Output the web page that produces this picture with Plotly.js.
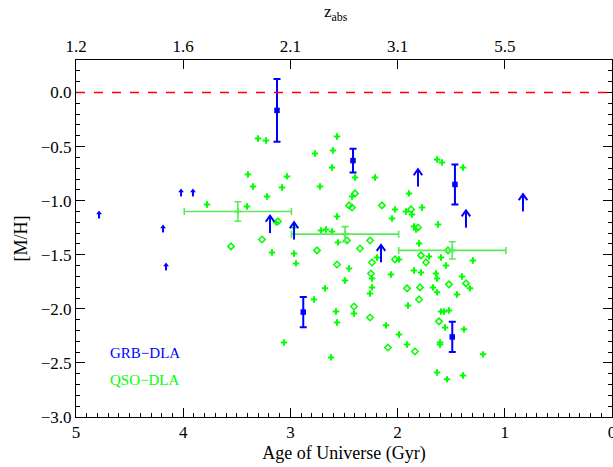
<!DOCTYPE html>
<html>
<head>
<meta charset="utf-8">
<script src="https://cdn.plot.ly/plotly-3.0.1.min.js"></script>
<style>html,body{margin:0;padding:0;background:#fff;}#chart{width:613px;height:467px;}</style>
</head>
<body>
<div id="chart"></div>
<script>
// ---- data ----
// QSO-DLA individual measurements (plus symbols)
var qsoPlusAge = [3.396,3.032,3.349,3.078,3.218,3.778,3.405,2.724,3.134,2.966,3.172,2.966,2.948,2.780,3.302,3.228,2.565,2.771,2.603,2.612,2.397,2.211,2.425,1.894,1.632,1.586,1.390,2.024,1.922,1.866,1.772,2.052,2.565,1.623,1.847,1.828,2.715,2.668,2.612,2.556,1.800,2.192,1.987,1.707,1.595,1.549,2.453,1.297,2.677,2.491,2.239,2.239,2.257,2.062,1.847,1.782,1.642,1.632,1.670,1.632,1.399,1.325,1.446,1.903,2.575,2.407,2.565,1.595,1.567,1.521,1.558,1.381,2.108,1.987,1.912,1.604,1.604,3.060,2.621,1.203,1.632,1.539,1.390];
var qsoPlusMH = [-0.758,-0.776,-0.869,-0.878,-0.961,-1.035,-1.054,-0.869,-1.201,-1.248,-1.479,-1.488,-1.580,-1.913,-0.425,-0.444,-0.407,-0.564,-0.536,-0.693,-0.786,-0.786,-0.961,-0.933,-0.619,-0.647,-0.693,-1.081,-1.100,-1.128,-1.063,-1.165,-1.146,-1.220,-1.238,-1.266,-1.275,-1.266,-1.285,-1.386,-1.396,-1.525,-1.543,-1.516,-1.525,-1.599,-1.627,-1.553,-1.811,-1.738,-1.719,-1.802,-1.858,-1.682,-1.645,-1.664,-1.673,-1.719,-1.802,-1.848,-1.701,-1.811,-1.867,-1.969,-2.024,-2.043,-2.126,-2.024,-2.024,-2.015,-2.172,-2.190,-2.153,-2.237,-2.329,-2.311,-2.329,-2.311,-2.449,-2.421,-2.588,-2.652,-2.616];
// QSO-DLA (open diamonds)
var qsoDiaAge = [3.116,3.265,3.554,2.752,2.397,2.453,2.425,2.146,1.875,1.810,2.472,2.257,2.351,2.024,1.782,1.735,2.565,2.239,1.530,2.248,1.912,1.791,1.521,1.362,1.800,2.407,2.257,1.614,2.090,1.838];
var qsoDiaMH = [-1.192,-1.359,-1.423,-1.460,-0.933,-1.044,-1.063,-1.044,-1.081,-1.248,-1.368,-1.368,-1.442,-1.543,-1.506,-1.571,-1.590,-1.571,-1.460,-1.673,-1.811,-1.802,-1.774,-1.765,-1.913,-1.978,-2.080,-2.116,-2.357,-2.394];
// QSO-DLA binned means
var binAge = [3.49, 2.49, 1.49];
var binAgeErr = [0.5, 0.5, 0.5];
var binMH = [-1.10, -1.31, -1.46];
var binMHErr = [0.09, 0.07, 0.08];
// GRB-DLA measurements
var grbAge = [3.125, 2.416, 1.465, 2.88, 1.49];
var grbMH = [-0.166, -0.63, -0.85, -2.03, -2.26];
var grbErr = [0.29, 0.11, 0.185, 0.14, 0.14];
// GRB-DLA lower limits (large arrows)
var grbLimAge = [3.19, 2.966, 1.81, 1.362, 0.83, 2.155];
var grbLimMH = [-1.30, -1.36, -0.87, -1.25, -1.10, -1.57];
// GRB-DLA lower limits (small arrows)
var grbSmallAge = [4.785, 4.188, 4.020, 3.909, 4.160];
var grbSmallMH = [-1.165, -1.294, -0.961, -0.961, -1.645];
// top axis: redshift labels at age positions
var zTickAge = [5, 4, 3, 2, 1];
var zTickLabel = ['1.2', '1.6', '2.1', '3.1', '5.5'];
// bottom axis ticks
var ageTicks = [5, 4, 3, 2, 1, 0];
var ageTickLabel = ['5', '4', '3', '2', '1', '0'];
var mhTicks = [0, -0.5, -1, -1.5, -2, -2.5, -3];
var mhTickLabel = ['0.0', '\u22120.5', '\u22121.0', '\u22121.5', '\u22122.0', '\u22122.5', '\u22123.0'];

// ---- styles ----
var BLUE = 'rgb(0,0,255)';
var GREEN = 'rgb(0,255,0)';
var BINGREEN = 'rgb(90,235,90)';
var FONT = 'Liberation Serif, Times New Roman, serif';

function arrows(ages, mhs, len, hw, hh, head) {
  var xs = [], ys = [];
  for (var i = 0; i < ages.length; i++) {
    var x = ages[i], y = mhs[i], t = y + len;
    xs.push(x, x, null); ys.push(y, t, null);
    if (head) {
      xs.push(x + hw, x, x - hw, null);
      ys.push(t - hh, t, t - hh, null);
    }
  }
  return {x: xs, y: ys};
}
var big = arrows(grbLimAge, grbLimMH, 0.16, 0.04, 0.055, true);
var small = arrows(grbSmallAge, grbSmallMH, 0.05, 0, 0, false);
var smallTipMH = grbSmallMH.map(function (v) { return v + 0.05; });

var traces = [
  {x: qsoPlusAge, y: qsoPlusMH, type: 'scatter', mode: 'markers', hoverinfo: 'skip',
   marker: {symbol: 'cross-thin', size: 4.6, line: {color: GREEN, width: 2}, color: GREEN}},
  {x: qsoDiaAge, y: qsoDiaMH, type: 'scatter', mode: 'markers', hoverinfo: 'skip',
   marker: {symbol: 'diamond-open', size: 5, line: {color: GREEN, width: 1.5}, color: GREEN}},
  {x: binAge, y: binMH, type: 'scatter', mode: 'markers', hoverinfo: 'skip',
   marker: {symbol: 'cross-thin', size: 4.6, line: {color: BINGREEN, width: 2}, color: BINGREEN},
   error_x: {type: 'data', array: binAgeErr, color: BINGREEN, thickness: 1.6, width: 3.5},
   error_y: {type: 'data', array: binMHErr, color: BINGREEN, thickness: 1.6, width: 3.5}},
  {x: grbAge, y: grbMH, type: 'scatter', mode: 'markers', hoverinfo: 'skip',
   marker: {symbol: 'square', size: 5.5, color: BLUE},
   error_y: {type: 'data', array: grbErr, color: BLUE, thickness: 2, width: 3.5}},
  {x: big.x, y: big.y, type: 'scatter', mode: 'lines', hoverinfo: 'skip',
   line: {color: BLUE, width: 2}, connectgaps: false},
  {x: small.x, y: small.y, type: 'scatter', mode: 'lines', hoverinfo: 'skip',
   line: {color: BLUE, width: 2}, connectgaps: false},
  {x: grbSmallAge, y: smallTipMH, type: 'scatter', mode: 'markers', hoverinfo: 'skip',
   marker: {symbol: 'triangle-up', size: 5, color: BLUE}},
  {x: zTickAge, y: zTickAge.map(function () { return null; }), xaxis: 'x2', type: 'scatter',
   mode: 'markers', hoverinfo: 'skip', marker: {opacity: 0}}
];

var axisCommon = {
  showgrid: false, zeroline: false, showline: true, linecolor: 'black', linewidth: 1,
  ticks: 'inside', ticklen: 9, tickwidth: 1, tickcolor: 'black', ticklabeloverflow: 'allow',
  tickfont: {family: FONT, size: 17, color: 'black'}
};

var layout = {
  width: 613, height: 467,
  margin: {l: 76, r: 1, t: 60, b: 50},
  paper_bgcolor: 'white', plot_bgcolor: 'white',
  showlegend: false,
  font: {family: FONT, color: 'black'},
  xaxis: Object.assign({}, axisCommon, {
    range: [5, 0], tickvals: ageTicks, ticktext: ageTickLabel,
    minor: {dtick: 0.1, ticks: 'inside', ticklen: 4, tickcolor: 'black', tickwidth: 1, showgrid: false},
    title: {text: 'Age of Universe (Gyr)', font: {family: FONT, size: 18, color: 'black'}, standoff: 4}
  }),
  xaxis2: Object.assign({}, axisCommon, {
    overlaying: 'x', side: 'top', range: [5, 0], tickvals: zTickAge, ticktext: zTickLabel
  }),
  yaxis: Object.assign({}, axisCommon, {
    range: [-3.0, 0.3], tickvals: mhTicks, ticktext: mhTickLabel,
    mirror: 'ticks',
    minor: {dtick: 0.1, ticks: 'inside', ticklen: 4, tickcolor: 'black', tickwidth: 1, showgrid: false},
    title: {text: '[M/H]', font: {family: FONT, size: 18, color: 'black'}, standoff: 8}
  }),
  shapes: [
    {type: 'line', xref: 'paper', yref: 'y', x0: 0, x1: 1, y0: 0, y1: 0,
     line: {color: 'rgb(255,0,0)', width: 1.5, dash: 'dash'}}
  ],
  annotations: [
    {xref: 'paper', yref: 'paper', x: 0.06, y: 0.179, xanchor: 'left', yanchor: 'middle',
     text: 'GRB\u2212DLA', showarrow: false, font: {family: FONT, size: 15, color: BLUE}},
    {xref: 'paper', yref: 'paper', x: 0.06, y: 0.104, xanchor: 'left', yanchor: 'middle',
     text: 'QSO\u2212DLA', showarrow: false, font: {family: FONT, size: 15, color: GREEN}},
    {xref: 'paper', yref: 'paper', x: 0.485, y: 1, xanchor: 'center', yanchor: 'bottom', yshift: 34,
     text: 'z<sub>abs</sub>', showarrow: false, font: {family: FONT, size: 17, color: 'black'}}
  ]
};

Plotly.newPlot('chart', traces, layout, {staticPlot: true, displayModeBar: false});
</script>
</body>
</html>
